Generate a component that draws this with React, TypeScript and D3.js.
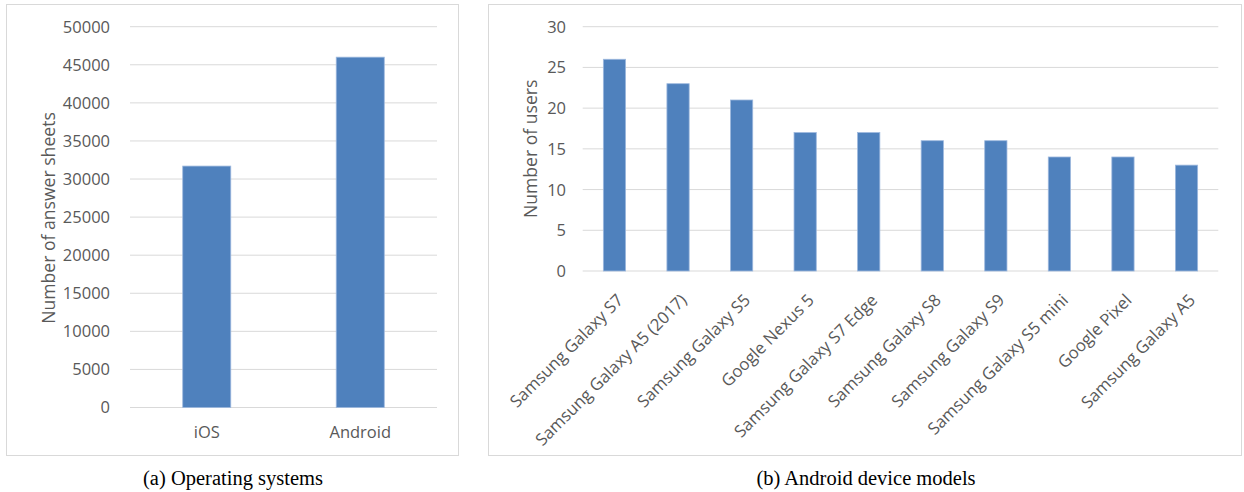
import React from "react";
import * as d3 from "d3";

const osCategories = ["iOS", "Android"];
const osValues = [31700, 46000];
const osTicks = [0, 5000, 10000, 15000, 20000, 25000, 30000, 35000, 40000, 45000, 50000];

const deviceCategories = [
  "Samsung Galaxy S7",
  "Samsung Galaxy A5 (2017)",
  "Samsung Galaxy S5",
  "Google Nexus 5",
  "Samsung Galaxy S7 Edge",
  "Samsung Galaxy S8",
  "Samsung Galaxy S9",
  "Samsung Galaxy S5 mini",
  "Google Pixel",
  "Samsung Galaxy A5",
];
const deviceValues = [26, 23, 21, 17, 17, 16, 16, 14, 14, 13];
const deviceTicks = [0, 5, 10, 15, 20, 25, 30];

const BAR = "#4f81bd";
const BAR_EDGE = "#9db8de";
const GRID = "#d9d9d9";
const TEXT = "#595959";
const FONT = "'Open Sans', sans-serif";
const SERIF = "'Liberation Serif', 'Times New Roman', serif";

export default function App() {
  // Panel (a)
  const ax = d3.scaleBand<string>().domain(osCategories).range([130, 437]).padding(0);
  const ay = d3.scaleLinear().domain([0, 50000]).range([407.5, 26.7]);
  const aBarW = ax.bandwidth() * 0.313;

  // Panel (b)
  const bx = d3.scaleBand<string>().domain(deviceCategories).range([582.7, 1218.3]).padding(0);
  const by = d3.scaleLinear().domain([0, 30]).range([271, 26.7]);
  const bBarW = bx.bandwidth() * 0.35;

  return (
    <svg width={1244} height={492} style={{ position: "absolute", left: 0, top: 0, background: "#fff" }}>
      <rect x={0} y={0} width={1244} height={492} fill="#fff" />
      {/* Panel (a) */}
      <rect x={6.5} y={4.5} width={452} height={451} fill="#fff" stroke={GRID} strokeWidth={1} />
      {osTicks.map((t) => (
        <g key={"ag" + t}>
          <line x1={130} x2={437} y1={ay(t)} y2={ay(t)} stroke={GRID} strokeWidth={1} />
          <text x={110} y={ay(t)} dy="0.36em" textAnchor="end" fontFamily={FONT} fontSize={16.5} fill={TEXT}>
            {t}
          </text>
        </g>
      ))}
      {osCategories.map((c, i) => (
        <g key={"ab" + c}>
          <rect
            x={ax(c)! + ax.bandwidth() / 2 - aBarW / 2}
            y={ay(osValues[i])}
            width={aBarW}
            height={ay(0) - ay(osValues[i])}
            fill={BAR}
            stroke={BAR_EDGE}
            strokeWidth={0.8}
          />
          <text x={ax(c)! + ax.bandwidth() / 2} y={438} textAnchor="middle" fontFamily={FONT} fontSize={16.5} fill={TEXT}>
            {c}
          </text>
        </g>
      ))}
      <text
        transform="translate(55,218) rotate(-90)"
        textAnchor="middle"
        fontFamily={FONT}
        fontSize={17.6}
        fill={TEXT}
      >
        Number of answer sheets
      </text>
      <text x={233} y={485} textAnchor="middle" fontFamily={SERIF} fontSize={20.5} fill="#000">
        (a) Operating systems
      </text>

      {/* Panel (b) */}
      <rect x={488.5} y={4.5} width={753} height={451} fill="#fff" stroke={GRID} strokeWidth={1} />
      {deviceTicks.map((t) => (
        <g key={"bg" + t}>
          <line x1={582.7} x2={1218.3} y1={by(t)} y2={by(t)} stroke={GRID} strokeWidth={1} />
          <text x={566} y={by(t)} dy="0.36em" textAnchor="end" fontFamily={FONT} fontSize={16.5} fill={TEXT}>
            {t}
          </text>
        </g>
      ))}
      {deviceCategories.map((c, i) => {
        const cx = bx(c)! + bx.bandwidth() / 2;
        return (
          <g key={"bb" + c}>
            <rect
              x={cx - bBarW / 2}
              y={by(deviceValues[i])}
              width={bBarW}
              height={by(0) - by(deviceValues[i])}
              fill={BAR}
              stroke={BAR_EDGE}
              strokeWidth={0.8}
            />
            <text
              transform={`translate(${cx + 5.5},297) rotate(-45)`}
              dy="0.36em"
              textAnchor="end"
              fontFamily={FONT}
              fontSize={16.8}
              fill={TEXT}
            >
              {c}
            </text>
          </g>
        );
      })}
      <text
        transform="translate(536.5,148.8) rotate(-90)"
        textAnchor="middle"
        fontFamily={FONT}
        fontSize={17.6}
        fill={TEXT}
      >
        Number of users
      </text>
      <text x={866} y={485} textAnchor="middle" fontFamily={SERIF} fontSize={20.5} fill="#000">
        (b) Android device models
      </text>
    </svg>
  );
}
